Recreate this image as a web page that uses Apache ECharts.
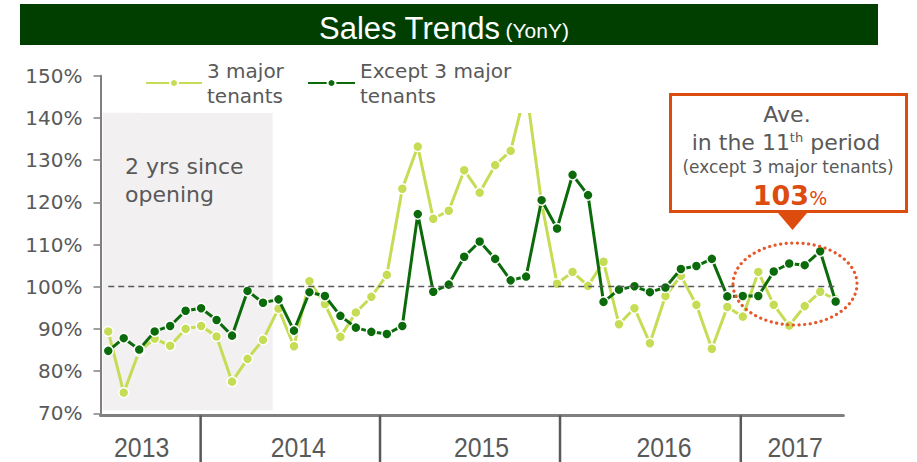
<!DOCTYPE html>
<html><head><meta charset="utf-8">
<script src="https://cdn.jsdelivr.net/npm/echarts@6/dist/echarts.min.js"></script>
<style>html,body{margin:0;padding:0;background:#fff}#c{width:917px;height:462px}</style>
</head><body><div id="c"></div>
<script>
// ---- data ----
const months = [
 '2013-07','2013-08','2013-09','2013-10','2013-11','2013-12',
 '2014-01','2014-02','2014-03','2014-04','2014-05','2014-06','2014-07','2014-08','2014-09','2014-10','2014-11','2014-12',
 '2015-01','2015-02','2015-03','2015-04','2015-05','2015-06','2015-07','2015-08','2015-09','2015-10','2015-11','2015-12',
 '2016-01','2016-02','2016-03','2016-04','2016-05','2016-06','2016-07','2016-08','2016-09','2016-10','2016-11','2016-12',
 '2017-01','2017-02','2017-03','2017-04','2017-05','2017-06'];
const majorTenants = [
 89.4, 74.9, 84.7, 87.7, 86.0, 90.0, 90.7, 88.2, 77.5, 82.9, 87.4, 94.8,
 85.9, 101.3, 95.9, 88.1, 93.9, 97.6, 102.8, 123.2, 133.2, 116.1, 118.0, 127.6,
 122.3, 128.8, 132.2, 147.0, 119.8, 100.7, 103.5, 100.2, 105.9, 91.1, 94.9, 86.6,
 97.8, 102.6, 95.7, 85.3, 95.2, 92.9, 103.5, 95.7, 90.8, 95.4, 98.8, 97.0];
const exceptMajor = [
 84.8, 87.8, 85.1, 89.4, 90.7, 94.3, 94.9, 92.1, 88.4, 99.0, 96.2, 97.0,
 89.6, 98.7, 97.8, 93.1, 90.3, 89.3, 88.8, 90.7, 117.2, 98.8, 100.5, 107.1,
 110.7, 106.6, 101.5, 102.4, 120.5, 113.8, 126.5, 121.7, 96.4, 99.3, 100.1, 98.7,
 99.8, 104.2, 104.9, 106.6, 97.7, 97.8, 97.8, 103.6, 105.5, 105.1, 108.4, 96.5];
const seriesNames = ['3 major\ntenants', 'Except 3 major\ntenants'];
const yearLabels = ['2013', '2014', '2015', '2016', '2017'];
const baselineValue = 100;
const yMin = 70, yMax = 150, yStep = 10;
const averageText = '103';

// ---- layout (not data) ----
const sepPos = [6.47, 18.06, 29.69, 41.37];
const labelPos = [2.66, 12.78, 24.62, 36.41, 44.88];
const GRAY = '#595959';
const ORANGE = '#dc4c0e';
const LIGHT = '#c5dd55';
const DARK = '#0b6b0b';
const F = '"DejaVu Sans", Verdana, sans-serif';
const NARROW = '"Liberation Sans Narrow", "Arial Narrow", "Liberation Sans", Arial, sans-serif';

const chart = echarts.init(document.getElementById('c'), null, {renderer: 'svg'});

const lineSeries = (name, data, color, extra) => Object.assign({
  name: name, type: 'line', data: data, xAxisIndex: 0, yAxisIndex: 0,
  symbol: 'circle', symbolSize: 10,
  lineStyle: {color: color, width: 3},
  itemStyle: {color: color, borderColor: '#fff', borderWidth: 1.5},
  emphasis: {disabled: true}, animation: false, z: 2
}, extra || {});

chart.setOption({
  animation: false,
  title: {
    text: '{a|Sales Trends} {b|(YonY)}',
    left: 314, top: 5,
    textStyle: {fontWeight: 'normal', rich: {
      a: {fontFamily: NARROW, fontSize: 31, fontWeight: 'normal', color: '#fff', lineHeight: 36},
      b: {fontFamily: NARROW, fontSize: 21, fontWeight: 'normal', color: '#fff', lineHeight: 36, padding: [4,0,0,0]}
    }}
  },
  grid: {left: 100.5, right: 73.6, top: 75.7, bottom: 48.7, containLabel: false},
  legend: [
    {data: [seriesNames[0]], left: 145, top: 52, padding: 0, itemWidth: 56, itemHeight: 10,
     itemGap: 3, selectedMode: false, z: 6,
     textStyle: {color: GRAY, fontFamily: F, fontSize: 20, lineHeight: 25, padding: [12,0,0,0]}},
    {data: [seriesNames[1]], left: 307, top: 52, padding: 0, itemWidth: 47, itemHeight: 10,
     itemGap: 3, selectedMode: false, z: 6,
     textStyle: {color: GRAY, fontFamily: F, fontSize: 20, lineHeight: 25, padding: [12,0,0,0]}}
  ],
  xAxis: [
    {type: 'category', data: months, boundaryGap: true, offset: 2,
     axisLine: {show: true, lineStyle: {color: '#7f7f7f', width: 3}},
     axisTick: {show: false}, axisLabel: {show: false}, splitLine: {show: false}},
    {type: 'value', min: 0, max: months.length, show: false, gridIndex: 0}
  ],
  yAxis: [{
    type: 'value', min: yMin, max: yMax, interval: yStep,
    axisLine: {show: true, lineStyle: {color: '#7f7f7f', width: 2}},
    axisTick: {show: true, length: 7, lineStyle: {color: '#7f7f7f', width: 1.5}},
    axisLabel: {formatter: '{value}%', color: GRAY, fontFamily: F, fontSize: 20, margin: 18},
    splitLine: {show: false}
  }],
  series: [
    lineSeries(seriesNames[0], majorTenants, LIGHT, {
      markLine: {silent: true, symbol: 'none', label: {show: false},
        lineStyle: {color: GRAY, type: [6, 4], width: 1.3},
        data: [[{xAxis: 0, yAxis: baselineValue}, {xAxis: months.length - 1, yAxis: baselineValue}]]}
    }),
    lineSeries(seriesNames[1], exceptMajor, DARK, {z: 3}),
    {
      type: 'custom', xAxisIndex: 1, yAxisIndex: 0, clip: false, silent: true,
      data: yearLabels.map((y, i) => [labelPos[i], yMin, i]),
      renderItem: function (params, api) {
        const i = params.dataIndex;
        const base = api.coord([labelPos[i], yMin]);
        const children = [{
          type: 'text', x: base[0], y: 447.5, scaleX: 0.92,
          style: {text: yearLabels[i], fill: GRAY, font: '27px ' + NARROW,
                  textAlign: 'center', textVerticalAlign: 'middle'}
        }];
        if (i < sepPos.length) {
          const s = api.coord([sepPos[i], yMin]);
          children.push({type: 'line', shape: {x1: s[0], y1: base[1] + 2, x2: s[0], y2: 462},
            style: {stroke: GRAY, lineWidth: 2.5}});
        }
        return {type: 'group', children: children};
      }
    }
  ],
  graphic: [
    {type: 'rect', z: 0, shape: {x: 20, y: 4, width: 858, height: 41}, style: {fill: '#003f00'}},
    {type: 'rect', z: 1, shape: {x: 102.7, y: 112.7, width: 170, height: 297.5}, style: {fill: '#f2f0f0'}},
    {type: 'text', z: 1, x: 125, y: 152, style: {text: '2 yrs since\nopening', fill: GRAY,
      font: '22px ' + F, lineHeight: 28}},
    {type: 'rect', z: 4, shape: {x: 140, y: 56, width: 405, height: 57}, style: {fill: '#fff'}},
    {type: 'ellipse', z: 5, shape: {cx: 795, cy: 284, rx: 62, ry: 41},
      style: {fill: 'none', stroke: '#e5582a', lineWidth: 3.2, lineDash: [0.1, 5.5], lineCap: 'round'}},
    {type: 'rect', z: 10, shape: {x: 670.5, y: 94.5, width: 236, height: 117},
      style: {fill: '#fff', stroke: ORANGE, lineWidth: 3}},
    {type: 'polygon', z: 10, shape: {points: [[778, 213], [807, 213], [792.5, 230]]}, style: {fill: ORANGE}},
    {type: 'text', z: 11, x: 787, y: 114, style: {text: 'Ave.', fill: GRAY, font: '22px ' + F,
      textAlign: 'center', textVerticalAlign: 'middle'}},
    {type: 'text', z: 11, x: 786, y: 142, style: {
      text: '{a|in the 11}{s|th}{a| period}', textAlign: 'center', textVerticalAlign: 'middle',
      rich: {a: {fontFamily: F, fontSize: 22, fill: GRAY, lineHeight: 26},
             s: {fontFamily: F, fontSize: 13, fill: GRAY, lineHeight: 26, padding: [0,0,10,0]}}}},
    {type: 'text', z: 11, x: 788, y: 167, style: {text: '(except 3 major tenants)', fill: GRAY,
      font: '17px ' + F, textAlign: 'center', textVerticalAlign: 'middle'}},
    {type: 'text', z: 11, x: 790, y: 195, style: {
      text: '{n|' + averageText + '}{p|%}', textAlign: 'center', textVerticalAlign: 'middle',
      rich: {n: {fontFamily: F, fontSize: 27, fontWeight: 'bold', fill: ORANGE, lineHeight: 32},
             p: {fontFamily: F, fontSize: 19, fill: ORANGE, lineHeight: 32, padding: [6,0,0,0]}}}}
  ]
});
</script></body></html>
